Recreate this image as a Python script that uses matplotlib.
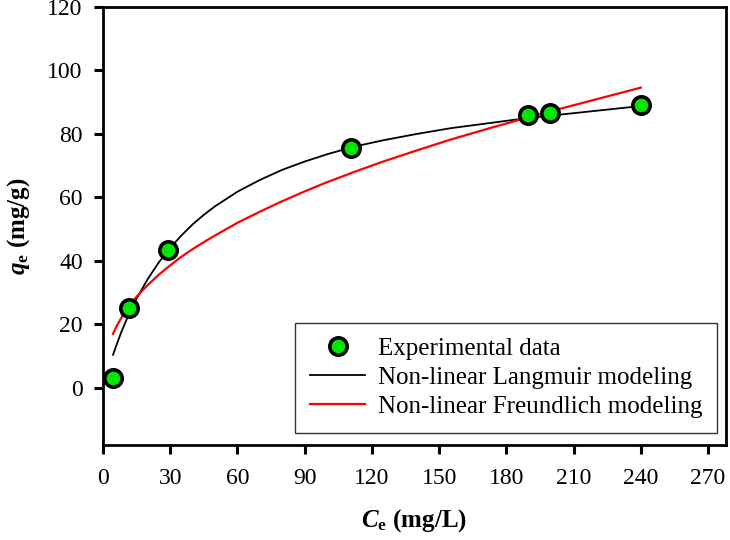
import numpy
import matplotlib
matplotlib.use("Agg")
import matplotlib.pyplot as pyplot

pyplot.rcParams["font.family"] = ["Liberation Serif", "DejaVu Serif"]
pyplot.rcParams["mathtext.fontset"] = "custom"
pyplot.rcParams["mathtext.rm"] = "Liberation Serif"
pyplot.rcParams["mathtext.it"] = "Liberation Serif:italic"
pyplot.rcParams["mathtext.bf"] = "Liberation Serif:bold"
pyplot.rcParams["mathtext.bfit"] = "Liberation Serif:bold:italic"

# --- data ---
ceExperimental = [4.5, 11.6, 28.9, 110.5, 189.6, 199.5, 240.0]
qeExperimental = [3.1, 25.2, 43.5, 75.7, 86.0, 86.5, 89.0]

ceModel = [4.5, 6, 8, 10, 12, 15, 20, 25, 30, 35, 40, 45, 50, 60, 70, 80, 90,
           100, 112, 125, 140, 155, 170, 185, 200, 220, 240]
qeLangmuir = [10.4, 13.4, 17.2, 20.6, 23.8, 28.1, 34.3, 39.6, 44.1, 48.0, 51.5,
              54.5, 57.2, 61.8, 65.5, 68.7, 71.3, 73.6, 76.0, 78.0, 80.0, 81.8,
              83.2, 84.6, 85.8, 87.3, 88.8]
qeFreundlich = [17.0, 19.3, 21.8, 24.0, 26.0, 28.7, 32.4, 35.7, 38.6, 41.3, 43.7,
                45.9, 48.0, 52.0, 55.5, 58.8, 61.9, 64.8, 68.0, 71.3, 74.8, 78.2,
                81.3, 84.3, 87.2, 90.9, 94.6]

xTicks = [0, 30, 60, 90, 120, 150, 180, 210, 240, 270]
yTicks = [0, 20, 40, 60, 80, 100, 120]

legendLabels = ["Experimental data", "Non-linear Langmuir modeling", "Non-linear Freundlich modeling"]


figure = pyplot.figure(figsize=(7.3, 5.4), dpi=100)
axis = figure.add_axes([0.141, 0.176, 0.8535, 0.811])

axis.plot(
    ceExperimental, qeExperimental,
    "o", linestyle="none",
    markerfacecolor="#00e600", markeredgecolor="black",
    markersize=12.5, markeredgewidth=2.6, zorder=3,
    label=legendLabels[0]
)
axis.plot(ceModel, qeLangmuir, "-", color="black", linewidth=1.3, zorder=2, label=legendLabels[1])
axis.plot(ceModel, qeFreundlich, "-", color="#ff0000", linewidth=1.6, zorder=2, label=legendLabels[2])

axis.set_xlim(0, 278)
axis.set_ylim(-18, 120)
axis.set_xticks(xTicks)
axis.set_yticks(yTicks)

for spine in axis.spines.values():
    spine.set_linewidth(2.0)

axis.tick_params(axis="both", direction="out", length=6.5, width=2.2, labelsize=17, pad=8)
axis.tick_params(axis="x", pad=10)

axis.set_xlabel(r"$\mathbfit{C}_{\mathbf{e}}$ (mg/L)", fontsize=18, fontweight="bold", labelpad=13)
axis.set_ylabel(r"$\mathbfit{q}_{\mathbf{e}}$ (mg/g)", fontsize=18, fontweight="bold", labelpad=11)

legend = axis.legend(
    loc="lower right", bbox_to_anchor=(0.986, 0.027), borderaxespad=0,
    fontsize=18, frameon=True, fancybox=False, edgecolor="black",
    handlelength=2.2, handletextpad=0.5, labelspacing=0.26, borderpad=0.6
)
legend.get_frame().set_linewidth(1.0)

figure.savefig("out.png", dpi=100)
